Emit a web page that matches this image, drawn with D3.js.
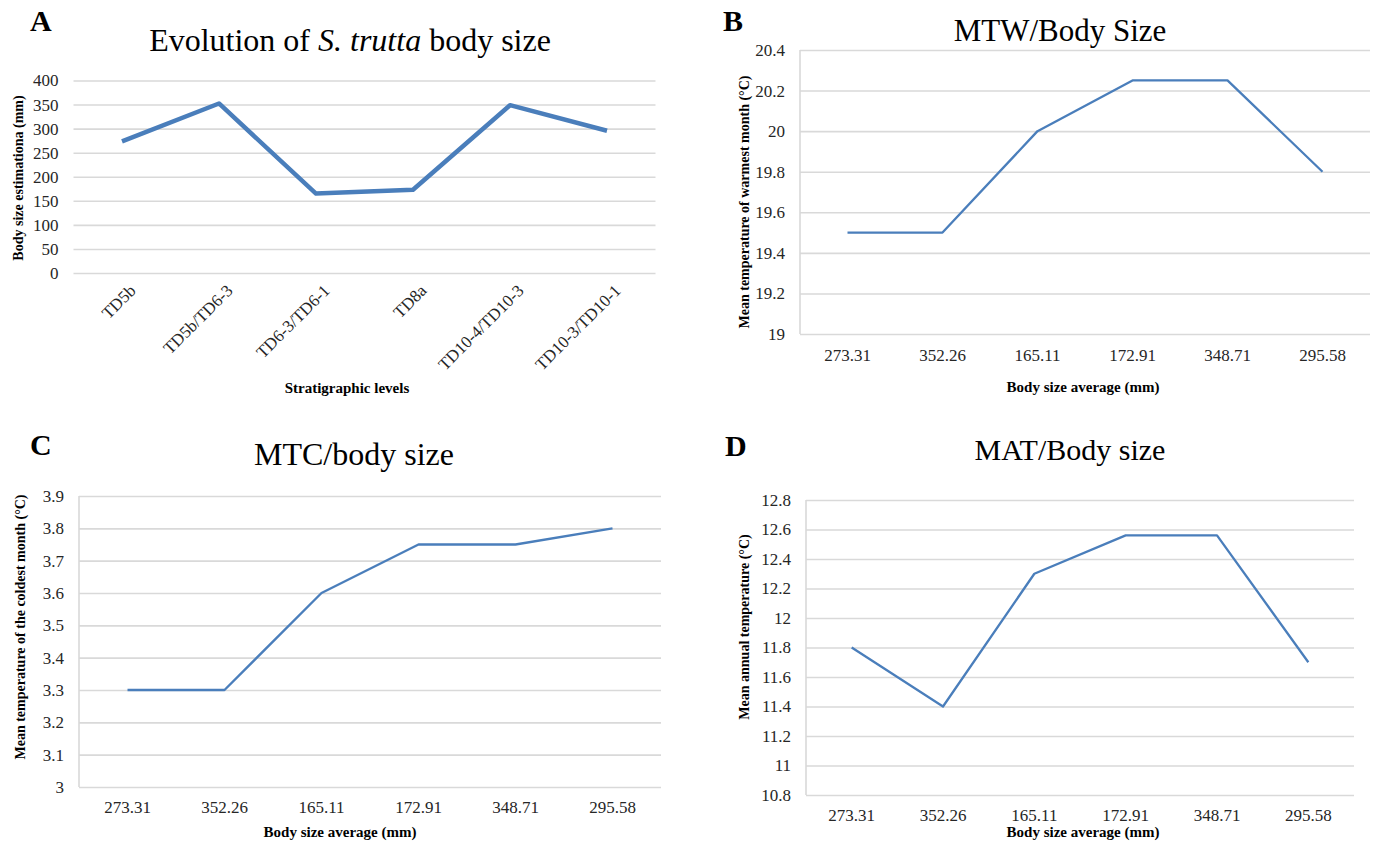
<!DOCTYPE html>
<html>
<head>
<meta charset="utf-8">
<script src="https://cdn.jsdelivr.net/npm/d3@7"></script>
<style>
  html, body { margin: 0; padding: 0; background: #fff; }
  svg { display: block; font-family: "Liberation Serif", "Times New Roman", serif; }
</style>
</head>
<body>
<svg id="fig" width="1378" height="842"></svg>
<script>
// Stratigraphic levels and mean body size estimates of S. trutta
const stratLevels = ["TD5b", "TD5b/TD6-3", "TD6-3/TD6-1", "TD8a", "TD10-4/TD10-3", "TD10-3/TD10-1"];
const bodySize = [273.31, 352.26, 165.11, 172.91, 348.71, 295.58];
const bodySizeLabels = ["273.31", "352.26", "165.11", "172.91", "348.71", "295.58"];

// Climatic reconstructions for each level (°C)
const mtw = [19.5, 19.5, 20.0, 20.25, 20.25, 19.8];
const mtc = [3.3, 3.3, 3.6, 3.75, 3.75, 3.8];
const mat = [11.8, 11.4, 12.3, 12.56, 12.56, 11.7];

// Value-axis ticks
const ticksA = [0, 50, 100, 150, 200, 250, 300, 350, 400];
const ticksB = [19, 19.2, 19.4, 19.6, 19.8, 20, 20.2, 20.4];
const ticksC = [3, 3.1, 3.2, 3.3, 3.4, 3.5, 3.6, 3.7, 3.8, 3.9];
const ticksD = [10.8, 11, 11.2, 11.4, 11.6, 11.8, 12, 12.2, 12.4, 12.6, 12.8];

const svg = d3.select("#fig");
const lineColor = "#4a7ebb";
const gridColor = "#d9d9d9";
const tickColor = "#262626";
const fmt = v => String(+v.toFixed(2));

function panel(cfg) {
  const g = svg.append("g");
  const x = d3.scaleBand().domain(cfg.cats).range([cfg.x0, cfg.x1]);
  const y = d3.scaleLinear().domain(cfg.domain).range([cfg.y0, cfg.y1]);

  // panel letter
  g.append("text").attr("x", cfg.letter[0]).attr("y", cfg.letter[1])
    .attr("font-size", 30).attr("font-weight", "bold").attr("fill", "#000").text(cfg.letterText);

  // chart title
  const t = g.append("text").attr("x", cfg.title[0]).attr("y", cfg.title[1])
    .attr("text-anchor", "middle").attr("font-size", cfg.titleSize).attr("fill", "#000");
  cfg.titleParts.forEach(p => t.append("tspan").attr("font-style", p.italic ? "italic" : null).text(p.text));

  // horizontal gridlines with value labels
  const yAxis = d3.axisLeft(y).tickValues(cfg.ticks).tickSize(-(cfg.x1 - cfg.x0)).tickPadding(15).tickFormat(fmt);
  const ya = g.append("g").attr("transform", `translate(${cfg.x0},0)`).call(yAxis);
  ya.select(".domain").remove();
  ya.selectAll(".tick line").attr("stroke", gridColor).attr("stroke-width", 1.6);
  ya.selectAll(".tick text").attr("font-size", 17).attr("fill", tickColor)
    .attr("font-family", "'Liberation Serif', serif");

  // left axis line
  if (cfg.leftAxis) {
    g.append("line").attr("x1", cfg.x0).attr("x2", cfg.x0).attr("y1", y(cfg.domain[0])).attr("y2", y(cfg.domain[1]))
      .attr("stroke", gridColor).attr("stroke-width", 1.6);
  }

  // category axis
  const xAxis = d3.axisBottom(x).tickSize(0).tickPadding(cfg.xPad).tickFormat((d, i) => cfg.xLabels[i]);
  const xa = g.append("g").attr("transform", `translate(0,${cfg.y0})`).call(xAxis);
  xa.select(".domain").remove();
  const xt = xa.selectAll(".tick text").attr("font-size", 17).attr("fill", tickColor)
    .attr("font-family", "'Liberation Serif', serif");
  if (cfg.rotate) {
    xt.attr("text-anchor", "end").attr("dy", "0.35em")
      .attr("transform", "translate(2,6) rotate(-45)");
  }

  // value line
  const line = d3.line().x((d, i) => x(cfg.cats[i]) + x.bandwidth() / 2).y(d => y(d));
  g.append("path").datum(cfg.values).attr("d", line).attr("fill", "none")
    .attr("stroke", lineColor).attr("stroke-width", cfg.lw).attr("stroke-linejoin", "round");

  // axis titles
  g.append("text").attr("transform", `translate(${cfg.yTitle[0]},${cfg.yTitle[1]}) rotate(-90)`)
    .attr("text-anchor", "middle").attr("dominant-baseline", "central")
    .attr("font-size", 14).attr("font-weight", "bold").attr("fill", "#000").text(cfg.yTitleText);
  g.append("text").attr("x", cfg.xTitle[0]).attr("y", cfg.xTitle[1])
    .attr("text-anchor", "middle").attr("dominant-baseline", "central")
    .attr("font-size", 15).attr("font-weight", "bold").attr("fill", "#000").text(cfg.xTitleText);
}

panel({
  cats: stratLevels, xLabels: stratLevels, values: bodySize, domain: [0, 400], ticks: ticksA,
  x0: 73.5, x1: 655.5, y0: 273, y1: 80.5, leftAxis: false, rotate: true, xPad: 12, lw: 4.5,
  letterText: "A", letter: [30, 31],
  titleParts: [{ text: "Evolution of " }, { text: "S. trutta", italic: true }, { text: " body size" }],
  title: [350, 51], titleSize: 32,
  yTitleText: "Body size estimationa (mm)", yTitle: [18, 178],
  xTitleText: "Stratigraphic levels", xTitle: [347, 388]
});

panel({
  cats: stratLevels, xLabels: bodySizeLabels, values: mtw, domain: [19, 20.4], ticks: ticksB,
  x0: 800, x1: 1370, y0: 334, y1: 50, leftAxis: true, rotate: false, xPad: 15, lw: 2.3,
  letterText: "B", letter: [723, 31],
  titleParts: [{ text: "MTW/Body Size" }], title: [1060, 41], titleSize: 31,
  yTitleText: "Mean temperature of warmest month (°C)", yTitle: [744, 202],
  xTitleText: "Body size average (mm)", xTitle: [1083, 387]
});

panel({
  cats: stratLevels, xLabels: bodySizeLabels, values: mtc, domain: [3, 3.9], ticks: ticksC,
  x0: 79, x1: 661, y0: 787, y1: 496, leftAxis: true, rotate: false, xPad: 14, lw: 2.3,
  letterText: "C", letter: [30, 455],
  titleParts: [{ text: "MTC/body size" }], title: [354, 465], titleSize: 32,
  yTitleText: "Mean temperature of the coldest month (°C)", yTitle: [20, 627],
  xTitleText: "Body size average (mm)", xTitle: [340, 832]
});

panel({
  cats: stratLevels, xLabels: bodySizeLabels, values: mat, domain: [10.8, 12.8], ticks: ticksD,
  x0: 806, x1: 1354, y0: 795, y1: 500, leftAxis: true, rotate: false, xPad: 14, lw: 2.3,
  letterText: "D", letter: [725, 456],
  titleParts: [{ text: "MAT/Body size" }], title: [1070, 460], titleSize: 30,
  yTitleText: "Mean annual temperature (°C)", yTitle: [744, 627],
  xTitleText: "Body size average (mm)", xTitle: [1083, 832]
});
</script>
</body>
</html>
